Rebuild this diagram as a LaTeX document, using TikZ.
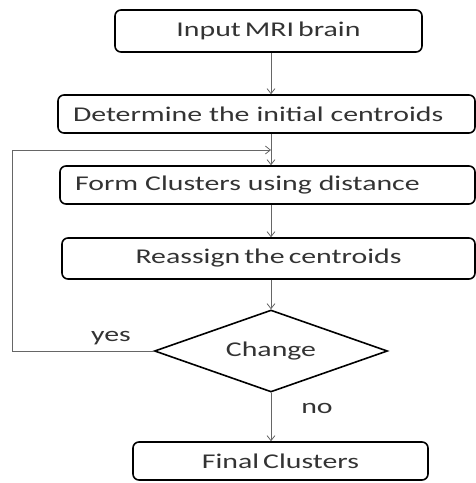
\documentclass[tikz,border=0pt]{standalone}
\usepackage{fontspec}
\setmainfont{Carlito}[FakeStretch=1.42, WordSpace=0.6]
\usetikzlibrary{shapes.geometric,arrows.meta}

\begin{document}
\begin{tikzpicture}[x=1pt, y=-1pt,
  >={Straight Barb[length=5pt,width=8pt]},
  font=\fontsize{21}{25}\selectfont, text=black!80,
  box/.style={draw=black, line width=1.6pt, rounded corners=6pt, inner sep=0pt},
  lbox/.style={box, align=left, inner xsep=15pt},
  dec/.style={diamond, draw=black, line width=1.6pt, inner sep=0pt, aspect=2.8},
  arr/.style={->, draw=black!60, line width=0.8pt}]

  \useasboundingbox (0,0) rectangle (476,483);

  %% steps
  \node[box, minimum width=307pt, minimum height=42pt] (inp) at (268.5,31) {Input MRI brain};
  \node[lbox, text width=387pt, minimum height=38pt] (det) at (266.5,114) {Determine the initial centroids};
  \node[lbox, text width=385pt, minimum height=38pt] (frm) at (267.5,185) {Form Clusters using distance};
  \node[box, minimum width=413pt, minimum height=41pt] (rea) at (268.5,258.5) {Reassign the centroids};
  \node[dec, minimum width=233pt, minimum height=82pt] (chg) at (271,351) {Change};
  \node[box, minimum width=295pt, minimum height=38pt] (fin) at (280.5,461) {Final Clusters};

  \node (yes) at (111,338) {yes};
  \node (no) at (317,408) {no};

  \coordinate (mid) at (271,150);
  \coordinate (back) at (12,150);

  %% main flow
  \draw[arr] (inp.south -| chg) -- (det.north -| chg);
  \draw[arr] (det.south -| chg) -- (frm.north -| chg);
  \draw[arr] (frm.south -| chg) -- (rea.north -| chg);
  \draw[arr] (rea.south -| chg) -- (chg.north);
  \draw[arr] (chg.south) -- (fin.north -| chg);

  %% loop back when centroids changed
  \draw[arr] (chg.west) -- (chg.west -| back) -- (back) -- (mid);
\end{tikzpicture}
\end{document}
